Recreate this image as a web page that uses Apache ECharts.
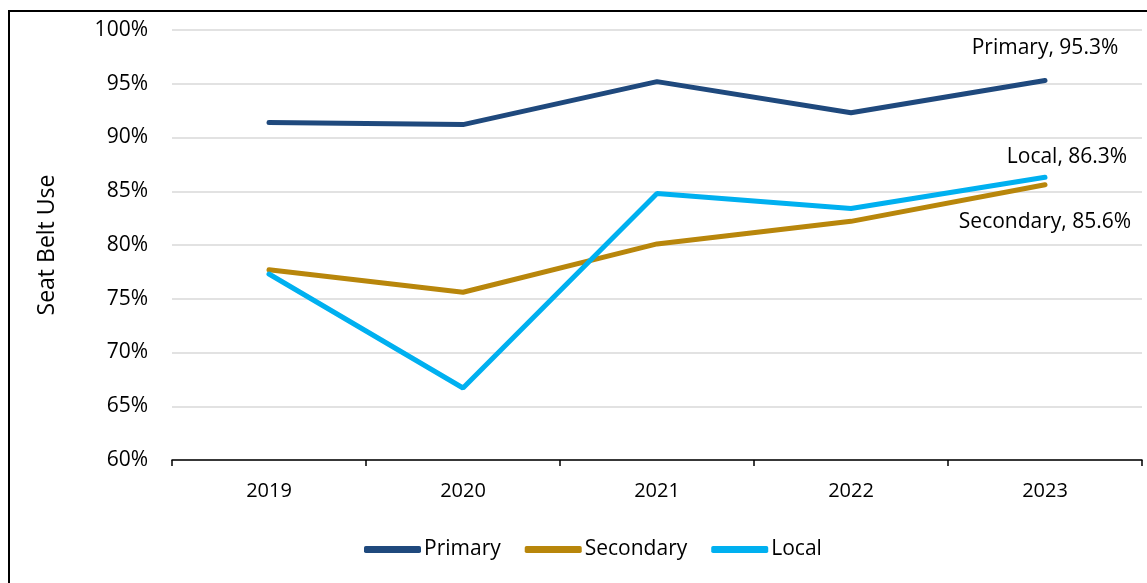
<!DOCTYPE html>
<html><head><meta charset="utf-8">
<script src="https://cdn.jsdelivr.net/npm/echarts@6/dist/echarts.min.js"></script>
<style>html,body{margin:0;padding:0;background:#fff}#c{width:1147px;height:583px}</style>
</head><body><div id="c"></div>
<script>
const years = ['2019','2020','2021','2022','2023'];
const primary = [91.4, 91.2, 95.2, 92.3, 95.3];
const secondary = [77.7, 75.6, 80.1, 82.2, 85.6];
const local = [77.3, 66.7, 84.8, 83.4, 86.3];
const yTicks = [60, 65, 70, 75, 80, 85, 90, 95, 100];

const font = '"Open Sans", sans-serif';
const fs = 21;
function withEndLabel(arr, name, cfg) {
  return arr.map((v, i) => i === arr.length - 1
    ? { value: v, label: Object.assign({ show: true, formatter: name + ', ' + v.toFixed(1) + '%', color: '#000', fontSize: fs, fontFamily: font }, cfg) }
    : v);
}
const chart = echarts.init(document.getElementById('c'));
chart.setOption({
  animation: false,
  graphic: [{ type: 'rect', shape: { x: 9, y: 11, width: 1150, height: 590 }, style: { fill: 'none', stroke: '#000', lineWidth: 2 }, silent: true }],
  grid: { left: 172, right: 5, top: 30, bottom: 123 },
  xAxis: {
    type: 'category', data: years, boundaryGap: true,
    axisLine: { lineStyle: { color: '#000', width: 1.5 } },
    axisTick: { show: true, length: 6, lineStyle: { color: '#000', width: 1.5 } },
    axisLabel: { color: '#000', fontSize: 20, fontFamily: font, margin: 21 }
  },
  yAxis: {
    type: 'value', min: yTicks[0], max: yTicks[yTicks.length - 1], interval: 5,
    name: 'Seat Belt Use', nameLocation: 'middle', nameGap: 113, nameRotate: 90,
    nameTextStyle: { color: '#000', fontSize: 23, fontFamily: font },
    axisLine: { show: false }, axisTick: { show: false },
    splitLine: { lineStyle: { color: '#d9d9d9', width: 1.5 } },
    axisLabel: { color: '#000', fontSize: fs, fontFamily: font, margin: 24, formatter: v => v + '%' }
  },
  legend: {
    bottom: 18, left: 359, itemWidth: 57, itemHeight: 7, itemGap: 24,
    icon: 'roundRect',
    textStyle: { color: '#000', fontSize: fs, fontFamily: font, padding: [0, 0, 0, -2] },
    data: ['Primary', 'Secondary', 'Local']
  },
  series: [
    { name: 'Primary', type: 'line', data: withEndLabel(primary, 'Primary', { position: 'top', distance: 22 }), symbol: 'circle', symbolSize: 0, showSymbol: true, lineStyle: { color: '#1F497D', width: 5, cap: 'round' }, itemStyle: { color: '#1F497D' } },
    { name: 'Secondary', type: 'line', data: withEndLabel(secondary, 'Secondary', { position: 'bottom', distance: 27 }), symbol: 'circle', symbolSize: 0, showSymbol: true, lineStyle: { color: '#B8860B', width: 5, cap: 'round' }, itemStyle: { color: '#B8860B' } },
    { name: 'Local', type: 'line', data: withEndLabel(local, 'Local', { position: 'top', distance: 10, offset: [22, 0] }), symbol: 'circle', symbolSize: 0, showSymbol: true, lineStyle: { color: '#00B0F0', width: 5, cap: 'round' }, itemStyle: { color: '#00B0F0' } }
  ]
});
</script></body></html>
